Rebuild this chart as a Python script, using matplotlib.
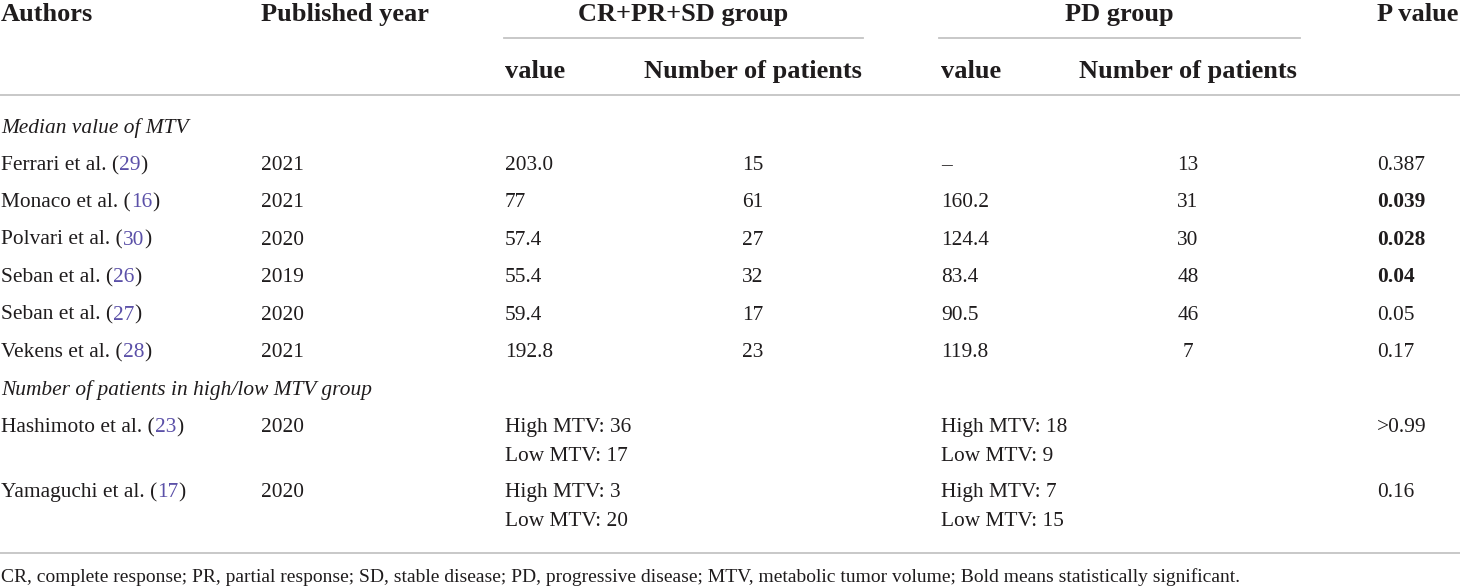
import numpy as np
import matplotlib.pyplot as plt

## Datos de la tabla
authors = ['Ferrari et al. (', 'Monaco et al. (', 'Polvari et al. (', 'Seban et al. (',
           'Seban et al. (', 'Vekens et al. (']
refs = ['29', '16', '30', '26', '27', '28']
years = ['2021', '2021', '2020', '2019', '2020', '2021']
cr_value = ['203.0', '77', '57.4', '55.4', '59.4', '192.8']
cr_n = ['15', '61', '27', '32', '17', '23']
pd_value = ['\u2013', '160.2', '124.4', '83.4', '90.5', '119.8']
pd_n = ['13', '31', '30', '48', '46', '7']
p_value = ['0.387', '0.039', '0.028', '0.04', '0.05', '0.17']
p_bold = [False, True, True, True, False, False]

authors2 = ['Hashimoto et al. (', 'Yamaguchi et al. (']
refs2 = ['23', '17']
years2 = ['2020', '2020']
cr_high = ['High MTV: 36', 'High MTV: 3']
cr_low = ['Low MTV: 17', 'Low MTV: 20']
pd_high = ['High MTV: 18', 'High MTV: 7']
pd_low = ['Low MTV: 9', 'Low MTV: 15']
p_value2 = ['>0.99', '0.16']

section1 = 'Median value of MTV'
section2 = 'Number of patients in high/low MTV group'
footnote = ('CR, complete response; PR, partial response; SD, stable disease; PD, progressive disease; '
            'MTV, metabolic tumor volume; Bold means statistically significant.')

plt.rcParams['font.family'] = ['Liberation Serif', 'DejaVu Serif']
txt = '#1f1c1d'
link = '#5b50a8'
gris = '#c4c4c4'
fs = 15.4   # cuerpo
fh = 19.0   # encabezados
fn = 14.0   # nota al pie

fig = plt.figure(figsize=(14.6, 5.87), dpi=100)
ax = fig.add_axes([0, 0, 1, 1])
ax.set_xlim(0, 1460)
ax.set_ylim(587, 0)
ax.axis('off')
r = fig.canvas.get_renderer()

# Columnas (x en pixeles)
x_aut, x_year, x_crv, x_crn, x_pdv, x_pdn, x_p = 1, 261, 505, 753, 941, 1188, 1377


def cita(x, y, nombre, ref):
    # texto negro + numero de referencia en color + parentesis
    t = ax.text(x, y, nombre, fontsize=fs, color=txt, va='baseline')
    bb = t.get_window_extent(r)
    t2 = ax.text(x + bb.width, y, ref, fontsize=fs, color=link, va='baseline')
    bb2 = t2.get_window_extent(r)
    ax.text(x + bb.width + bb2.width, y, ')', fontsize=fs, color=txt, va='baseline')


## Encabezados
ax.text(x_aut, 21, 'Authors', fontsize=fh, fontweight='bold', color=txt, va='baseline')
ax.text(x_year, 21, 'Published year', fontsize=fh, fontweight='bold', color=txt, va='baseline')
ax.text(683, 21, 'CR+PR+SD group', fontsize=fh, fontweight='bold', color=txt, va='baseline', ha='center')
ax.text(1119, 21, 'PD group', fontsize=fh, fontweight='bold', color=txt, va='baseline', ha='center')
ax.text(x_p, 21, 'P value', fontsize=fh, fontweight='bold', color=txt, va='baseline')
ax.text(x_crv, 78, 'value', fontsize=fh, fontweight='bold', color=txt, va='baseline')
ax.text(x_crn, 78, 'Number of patients', fontsize=fh, fontweight='bold', color=txt, va='baseline', ha='center')
ax.text(x_pdv, 78, 'value', fontsize=fh, fontweight='bold', color=txt, va='baseline')
ax.text(x_pdn, 78, 'Number of patients', fontsize=fh, fontweight='bold', color=txt, va='baseline', ha='center')

ax.plot([504, 863], [38, 38], color=gris, lw=1.3)
ax.plot([939, 1300], [38, 38], color=gris, lw=1.3)
ax.plot([0, 1460], [95, 95], color=gris, lw=1.3)
ax.plot([0, 1460], [553, 553], color=gris, lw=1.3)

## Seccion 1: mediana de MTV
ax.text(x_aut, 133, section1, fontsize=fs, style='italic', color=txt, va='baseline')
y0 = 170
dy = 37.4
for i in range(len(authors)):
    y = y0 + i*dy
    cita(x_aut, y, authors[i], refs[i])
    ax.text(x_year, y, years[i], fontsize=fs, color=txt, va='baseline')
    ax.text(x_crv, y, cr_value[i], fontsize=fs, color=txt, va='baseline')
    ax.text(x_crn, y, cr_n[i], fontsize=fs, color=txt, va='baseline', ha='center')
    ax.text(x_pdv, y, pd_value[i], fontsize=fs, color=txt, va='baseline')
    ax.text(x_pdn, y, pd_n[i], fontsize=fs, color=txt, va='baseline', ha='center')
    ax.text(x_p, y, p_value[i], fontsize=fs, color=txt, va='baseline',
            fontweight='bold' if p_bold[i] else 'normal')

## Seccion 2: alto/bajo MTV
ax.text(x_aut, 395, section2, fontsize=fs, style='italic', color=txt, va='baseline')
ys = [432, 497]
for i in range(len(authors2)):
    y = ys[i]
    cita(x_aut, y, authors2[i], refs2[i])
    ax.text(x_year, y, years2[i], fontsize=fs, color=txt, va='baseline')
    ax.text(x_crv, y, cr_high[i], fontsize=fs, color=txt, va='baseline')
    ax.text(x_crv, y + 29, cr_low[i], fontsize=fs, color=txt, va='baseline')
    ax.text(x_pdv, y, pd_high[i], fontsize=fs, color=txt, va='baseline')
    ax.text(x_pdv, y + 29, pd_low[i], fontsize=fs, color=txt, va='baseline')
    ax.text(x_p, y, p_value2[i], fontsize=fs, color=txt, va='baseline')

ax.text(x_aut, 582, footnote, fontsize=fn, color=txt, va='baseline')

fig.savefig('out.png', dpi=100)
